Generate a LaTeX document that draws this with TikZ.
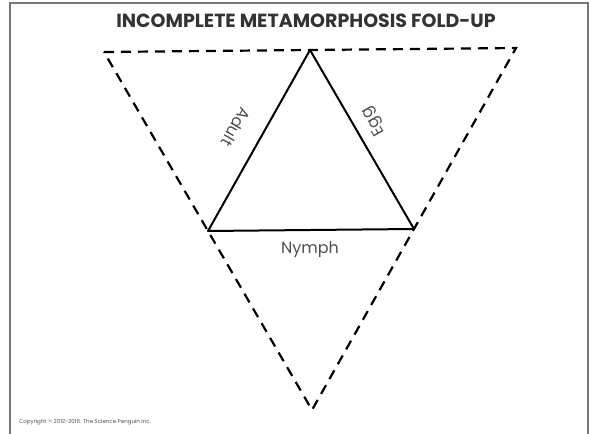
\documentclass[tikz,border=0pt]{standalone}
\usepackage{fontspec}
\setmainfont{Poppins}
\usepackage{tikz}
\usetikzlibrary{calc}
\usepackage{xcolor}
\definecolor{framegray}{RGB}{120,120,120}
\definecolor{labelgray}{RGB}{80,80,80}

\begin{document}
\begin{tikzpicture}[x=1pt, y=1pt,
        % Define styles for the lines and labels
        fold/.style={line width=2.2pt, dashed, dash pattern=on 10pt off 7pt},
        cut/.style={line width=2pt, line join=round},
        side/.style={text=labelgray, font=\fontsize{16}{16}\selectfont, inner sep=0pt}]

        \useasboundingbox (0,0) rectangle (590,434);

        % 1. The page frame and title
        \draw[framegray, line width=2pt] (10,0) -- (10,431) -- (588,431) -- (588,0);
        \node[font=\fontsize{19}{19}\selectfont\bfseries, text=black!80] (title) at (306,413) {INCOMPLETE METAMORPHOSIS FOLD-UP};

        % 2. Define the coordinates for the outer triangle
        \coordinate (TL) at (104,382);
        \coordinate (TR) at (516,386);
        \coordinate (B) at (312,24);

        % 3. The inner triangle sits on the midpoints
        \coordinate (T) at ($(TL)!0.5!(TR)$);
        \coordinate (L) at ($(TL)!0.5!(B)$);
        \coordinate (R) at ($(TR)!0.5!(B)$);

        % 4. Draw the fold lines and the triangle
        \draw[fold] (TL) -- (TR) -- (B) -- cycle;
        \draw[cut] (T) -- (L) -- (R) -- cycle;

        % 5. Label the sides
        \node[side, rotate=-120] (adult) at (236,307) {Adult};
        \node[side, rotate=120] (egg) at (374,313) {Egg};
        \node[side] (nymph) at (310,184) {Nymph};

        % 6. Copyright line
        \node[anchor=west, text=labelgray, font=\fontsize{5.5}{6}\selectfont, inner sep=0pt] (copy) at (19,12) {Copyright \textcopyright{} 2012-2016. The Science Penguin Inc.};
    \end{tikzpicture}
\end{document}
